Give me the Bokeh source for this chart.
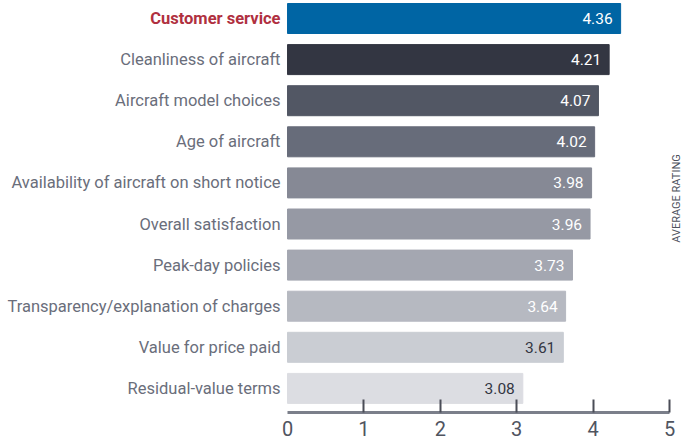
import math
from bokeh.plotting import figure
from bokeh.models import Range1d, FixedTicker, ColumnDataSource, Label, LinearAxis
from bokeh.embed import file_html
from bokeh.resources import INLINE
from bokeh.core.properties import value

categories = [
    "Customer service",
    "Cleanliness of aircraft",
    "Aircraft model choices",
    "Age of aircraft",
    "Availability of aircraft on short notice",
    "Overall satisfaction",
    "Peak-day policies",
    "Transparency/explanation of charges",
    "Value for price paid",
    "Residual-value terms",
]
ratings = [4.36, 4.21, 4.07, 4.02, 3.98, 3.96, 3.73, 3.64, 3.61, 3.08]
x_ticks = [0, 1, 2, 3, 4, 5]
axis_title = "AVERAGE RATING"

bar_colors = ["#0065a4", "#333642", "#525764", "#676c7a", "#868995",
              "#9699a4", "#a4a7b1", "#b6b9c1", "#cacdd3", "#dcdde2"]
value_colors = ["#ffffff"] * 8 + ["#333642", "#333642"]
label_colors = ["#b0303f"] + ["#6a6e7b"] * 9
label_styles = ["bold"] + ["normal"] * 9

FONT = "Roboto"

pos = list(range(len(categories)))
src = ColumnDataSource(dict(
    y=pos, right=ratings, zero=[0] * len(pos), cat=categories,
    color=bar_colors, tcolor=value_colors, lcolor=label_colors, lstyle=label_styles,
    label=[f"{v:.2f}" for v in ratings],
))

p = figure(width=692, height=445, output_backend="svg", toolbar_location=None,
           x_range=Range1d(-3.757, 5.301), y_range=Range1d(9.586, -0.438),
           min_border_left=0, min_border_right=0, min_border_top=0,
           min_border_bottom=33, x_axis_location=None, y_axis_location=None)
p.outline_line_color = None
p.grid.visible = False
p.background_fill_color = "white"
p.border_fill_color = "white"

p.hbar(y="y", left=0, right="right", height=0.73, color="color", source=src)
p.text(x="right", y="y", text="label", x_offset=-8, text_align="right",
       text_baseline="middle", text_color="tcolor", text_font=value(FONT),
       text_font_size="15.5px", source=src)
p.text(x="zero", y="y", text="cat", x_offset=-7, text_align="right",
       text_baseline="middle", text_color="lcolor", text_font_style="lstyle",
       text_font=value(FONT), text_font_size="16.5px", source=src)

# x axis: line + tick marks (no labels)
xa = LinearAxis(ticker=FixedTicker(ticks=x_ticks[1:]), bounds=(x_ticks[0], x_ticks[-1]))
xa.axis_line_width = 3
xa.axis_line_color = "#7b7f8a"
xa.major_tick_in = 13
xa.major_tick_out = 0
xa.major_tick_line_color = "#4a4d57"
xa.major_tick_line_width = 2
xa.minor_tick_line_color = None
xa.major_label_standoff = 0
xa.major_label_text_font_size = "0px"
xa.major_label_overrides = {t: "" for t in x_ticks}
p.add_layout(xa, "below")

# x axis: tick labels only
xb = LinearAxis(ticker=FixedTicker(ticks=x_ticks), bounds=(x_ticks[0], x_ticks[-1]))
xb.axis_line_color = None
xb.major_tick_line_color = None
xb.minor_tick_line_color = None
xb.major_tick_in = 0
xb.major_tick_out = 0
xb.major_label_standoff = 8
xb.major_label_text_font = FONT
xb.major_label_text_font_size = "20px"
xb.major_label_text_color = "#50545f"
p.add_layout(xb, "below")

p.add_layout(Label(x=5.092, y=4.38, text=axis_title, angle=math.pi / 2,
                   text_align="center", text_baseline="middle",
                   text_color="#4e525c", text_font=FONT, text_font_size="11px"))

open("out.html", "w").write(file_html(p, INLINE))
